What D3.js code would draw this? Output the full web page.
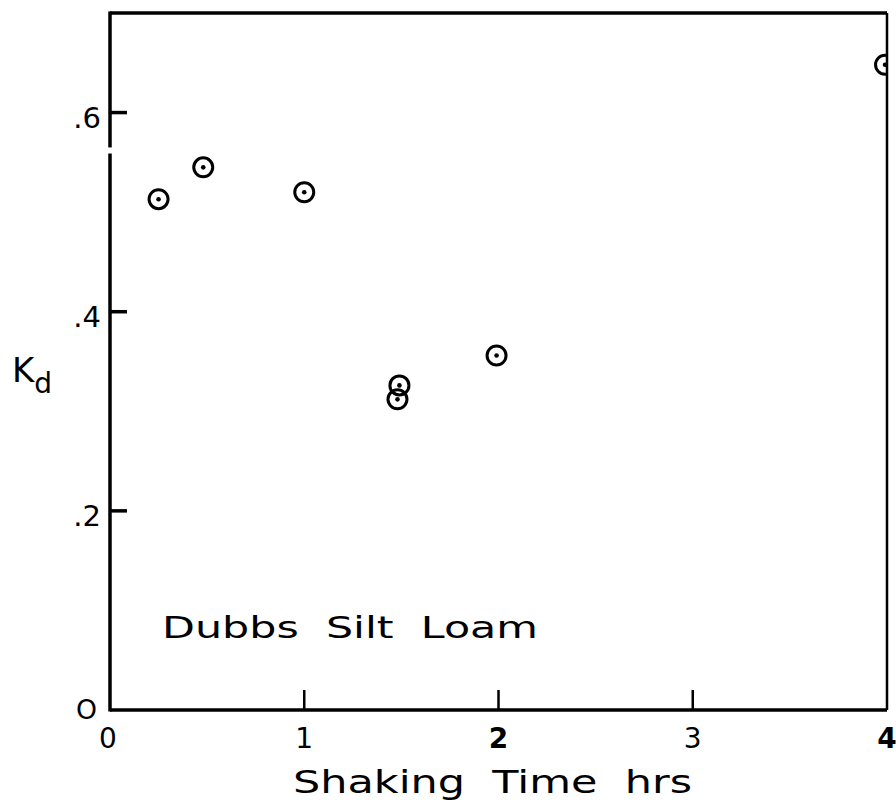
<!DOCTYPE html>
<html>
<head>
<meta charset="utf-8">
<script src="https://cdn.jsdelivr.net/npm/d3@7"></script>
<style>
  body { margin: 0; background: #fff; }
  text { font-family: "DejaVu Sans", sans-serif; fill: #000; white-space: pre; }
</style>
</head>
<body>
<div id="chart"></div>
<script>
// shaking time (hrs) and Kd
const shakingTime = [0.25, 0.48, 1.0, 1.49, 1.48, 1.99, 3.99];
const kdValues    = [0.513, 0.545, 0.52, 0.326, 0.312, 0.356, 0.648];

const xTickValues = [1, 2, 3];
const xLabelValues = [0, 1, 2, 3, 4];
const yTickValues = [0.2, 0.4, 0.6];
const yTickLabels = ['.2', '.4', '.6'];

const width = 896, height = 807;
const margin = {left: 110, right: 9, top: 13, bottom: 97};

const svg = d3.select('#chart').append('svg')
    .attr('width', width)
    .attr('height', height);

const x = d3.scaleLinear().domain([0, 4]).range([margin.left, width - margin.right]);
const y = d3.scaleLinear().domain([0, 0.7]).range([height - margin.bottom, margin.top]);

//clip for points hitting the right frame
svg.append('clipPath').attr('id', 'plotclip')
    .append('rect')
    .attr('x', x(0)).attr('y', y(0.7))
    .attr('width', x(4) - x(0)).attr('height', y(0) - y(0.7));

// points: open circle with centre dot
let pts = svg.append('g').attr('clip-path', 'url(#plotclip)')
    .selectAll('.pt')
    .data(shakingTime.map((t, i) => [t, kdValues[i]]))
    .enter().append('g')
    .attr('transform', d => 'translate(' + x(d[0]) + ',' + y(d[1]) + ')');

pts.append('circle').attr('r', 9.5)
    .attr('fill', 'none').attr('stroke', '#000').attr('stroke-width', 3);
pts.append('circle').attr('r', 2.3).attr('fill', '#000');

// frame
svg.append('line')
    .attr('x1', x(0)).attr('x2', x(4)).attr('y1', y(0.7)).attr('y2', y(0.7))
    .attr('stroke', '#000').attr('stroke-width', 3.5);
svg.append('line')
    .attr('x1', x(4)).attr('x2', x(4)).attr('y1', y(0.7)).attr('y2', y(0))
    .attr('stroke', '#000').attr('stroke-width', 2.5);
svg.append('line')
    .attr('x1', x(0)).attr('x2', x(4)).attr('y1', y(0)).attr('y2', y(0))
    .attr('stroke', '#000').attr('stroke-width', 3.5);
// left axis has a small break just below .6
svg.append('line')
    .attr('x1', x(0)).attr('x2', x(0)).attr('y1', y(0.7) - 1.5).attr('y2', y(0.565))
    .attr('stroke', '#000').attr('stroke-width', 3.5);
svg.append('line')
    .attr('x1', x(0)).attr('x2', x(0)).attr('y1', y(0.559)).attr('y2', y(0) + 1.5)
    .attr('stroke', '#000').attr('stroke-width', 3.5);

// y ticks (inward)
svg.append('g').selectAll('line')
    .data(yTickValues).enter().append('line')
    .attr('x1', x(0)).attr('x2', x(0) + 17)
    .attr('y1', d => y(d)).attr('y2', d => y(d))
    .attr('stroke', '#000').attr('stroke-width', 3.5);

svg.append('g').selectAll('text')
    .data(yTickValues).enter().append('text')
    .attr('x', x(0) - 9)
    .attr('y', d => y(d) + 15)
    .attr('text-anchor', 'end')
    .attr('font-size', 29)
    .text((d, i) => yTickLabels[i]);

svg.append('text')
    .attr('x', 76).attr('y', y(0) + 9)
    .attr('font-size', 26)
    .attr('textLength', 21).attr('lengthAdjust', 'spacingAndGlyphs')
    .text('O');

// x ticks (upward)
svg.append('g').selectAll('line')
    .data(xTickValues).enter().append('line')
    .attr('x1', d => x(d)).attr('x2', d => x(d))
    .attr('y1', y(0)).attr('y2', y(0) - 20)
    .attr('stroke', '#000').attr('stroke-width', 2.5);

svg.append('g').selectAll('text')
    .data(xLabelValues).enter().append('text')
    .attr('x', d => x(d) - (d === 0 ? 2 : 0))
    .attr('y', y(0) + 38)
    .attr('text-anchor', 'middle')
    .attr('font-size', 28)
    .attr('font-weight', d => (d === 2 || d === 4) ? 'bold' : 'normal')
    .text(d => d);

// axis titles
svg.append('text')
    .attr('x', 293).attr('y', 793)
    .attr('font-size', 32)
    .attr('textLength', 399).attr('lengthAdjust', 'spacingAndGlyphs')
    .text('Shaking  Time  hrs');

let kd = svg.append('text')
    .attr('x', 12).attr('y', 382)
    .attr('font-size', 34);
kd.append('tspan').text('K');
kd.append('tspan').attr('font-size', 28).attr('dy', 11).text('d');

// soil label
svg.append('text')
    .attr('x', 162).attr('y', 638)
    .attr('font-size', 30)
    .attr('textLength', 376).attr('lengthAdjust', 'spacingAndGlyphs')
    .text('Dubbs  Silt  Loam');
</script>
</body>
</html>
